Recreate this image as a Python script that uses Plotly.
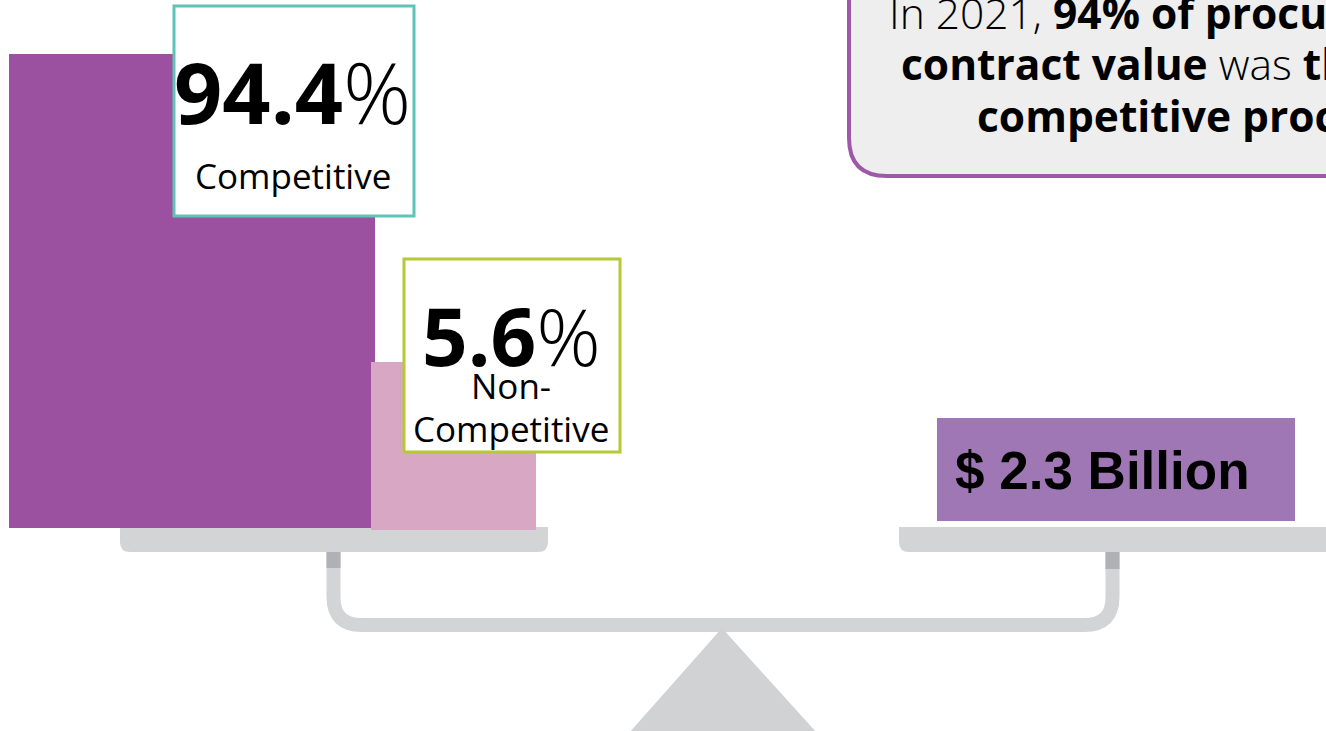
import plotly.graph_objects as go

# ---- data ----
categories = ["Competitive", "Non-Competitive"]
shares_pct = [94.4, 5.6]
share_labels = ["94.4", "5.6"]
total_label = "$ 2.3 Billion"
callout_lines = [
    ["In 2021, ", "<b>94% of procurement</b>"],
    ["<b>contract value</b>", " was ", "<b>through a</b>"],
    ["<b>competitive process.</b>"],
]

# ---- layout constants (pixel space of the page) ----
W, H = 1326, 731
bar_x = [192, 453.5]
bar_w = [366, 165]
bar_base = [54, 362]
bar_len = [474, 168]
bar_colors = ["#9B50A0", "#D8A7C3"]

fig = go.Figure()
for i, c in enumerate(categories):
    fig.add_trace(go.Bar(x=[bar_x[i]], y=[bar_len[i]], base=[bar_base[i]], width=[bar_w[i]],
                         marker=dict(color=bar_colors[i], line=dict(width=0)),
                         name=c, hoverinfo="skip"))
# total block
fig.add_trace(go.Bar(x=[1116], y=[103], base=[418], width=[358],
                     marker=dict(color="#9E77B4", line=dict(width=0)),
                     name="Total", hoverinfo="skip"))

grey = "#D3D4D6"
dark = "#B0B1B4"
shapes = []
# pans
shapes.append(dict(type="path", layer="below", line=dict(width=0), fillcolor=grey,
                   path="M120,527 L548,527 L548,542 Q548,552 538,552 L130,552 Q120,552 120,542 Z"))
shapes.append(dict(type="path", layer="below", line=dict(width=0), fillcolor=grey,
                   path="M899,527 L1360,527 L1360,552 L909,552 Q899,552 899,542 Z"))
# U beam
shapes.append(dict(type="path", layer="below", line=dict(width=14, color=grey),
                   path="M333.5,552 L333.5,597 Q333.5,625 361.5,625 L1084.5,625 Q1112.5,625 1112.5,597 L1112.5,552"))
shapes.append(dict(type="rect", layer="below", line=dict(width=0), fillcolor=dark,
                   x0=326.5, x1=340.5, y0=552, y1=568))
shapes.append(dict(type="rect", layer="below", line=dict(width=0), fillcolor=dark,
                   x0=1105.5, x1=1119.5, y0=552, y1=569))
# fulcrum
shapes.append(dict(type="path", layer="below", line=dict(width=0), fillcolor="#D1D2D4",
                   path="M722,628 L817,733 L629,733 Z"))
# label boxes
shapes.append(dict(type="rect", layer="above", line=dict(width=3, color="#5EC4B6"), fillcolor="white",
                   x0=174, x1=414, y0=6, y1=216))
shapes.append(dict(type="rect", layer="above", line=dict(width=3, color="#B5C935"), fillcolor="white",
                   x0=404, x1=620, y0=259, y1=452))
# callout box
shapes.append(dict(type="path", layer="above", line=dict(width=4, color="#9D58A7"), fillcolor="#EEEEEE",
                   path="M849,-40 L849,138 Q849,176 887,176 L1380,176 L1380,-40 Z"))

annotations = []
def ann(x, y, text, size, family="Open Sans", xanchor="center", color="black"):
    annotations.append(dict(x=x, y=y, xref="x", yref="y", text=text, showarrow=False,
                            xanchor=xanchor, yanchor="middle",
                            font=dict(family=family, size=size, color=color)))

ann(292, 91, f"<b>{share_labels[0]}</b><span style='font-weight:300'>%</span>", 84.5)
ann(293, 175, categories[0], 35)
ann(511, 334, f"<b>{share_labels[1]}</b><span style='font-weight:300'>%</span>", 80)
ann(511, 385, "Non-", 35)
ann(511, 428, "Competitive", 35)
ann(953, 470, f"<b>{total_label}</b>", 53, family="Liberation Sans", xanchor="left")

line_x = [887, 899, 975]
line_y = [12, 63, 115]
for i, parts in enumerate(callout_lines):
    txt = "".join(p if p.startswith("<b>") else f"<span style='font-weight:300'>{p}</span>" for p in parts)
    ann(line_x[i], line_y[i], txt, 42.5, xanchor="left")

fig.update_layout(
    width=W, height=H, margin=dict(l=0, r=0, t=0, b=0),
    paper_bgcolor="white", plot_bgcolor="white", showlegend=False,
    barmode="overlay", bargap=0,
    xaxis=dict(range=[0, W], visible=False, fixedrange=True),
    yaxis=dict(range=[H, 0], visible=False, fixedrange=True),
    shapes=shapes, annotations=annotations,
)
fig.write_html("out.html", config={"displayModeBar": False},
               post_script="document.body.style.margin='0px';document.body.style.overflow='hidden';")
